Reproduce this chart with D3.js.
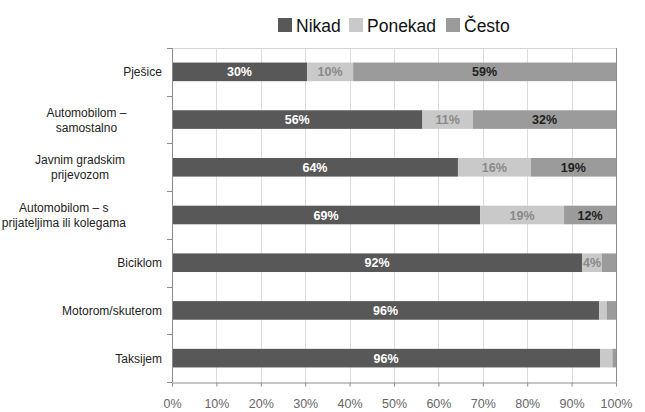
<!DOCTYPE html>
<html>
<head>
<meta charset="utf-8">
<script src="https://cdn.jsdelivr.net/npm/d3@7"></script>
<style>
  body { margin: 0; background: #fff; }
  svg { font-family: "Liberation Sans", Arial, sans-serif; }
</style>
</head>
<body>
<svg width="645" height="412"></svg>
<script>
// data
var categories = [
  ["Pješice"],
  ["Automobilom –", "samostalno"],
  ["Javnim gradskim", "prijevozom"],
  ["Automobilom – s", "prijateljima ili kolegama"],
  ["Biciklom"],
  ["Motorom/skuterom"],
  ["Taksijem"]
];
var seriesNames = ["Nikad", "Ponekad", "Često"];
var nikad   = [30.4, 56.4, 64.4, 69.4, 92.4, 96.2, 96.4];
var ponekad = [10.4, 11.4, 16.4, 18.9, 4.4, 1.7, 2.8];
var cesto   = [59.2, 32.2, 19.2, 11.7, 3.2, 2.1, 0.8];
var xTicks  = [0, 10, 20, 30, 40, 50, 60, 70, 80, 90, 100];

var colors = ["#585858", "#c9c9c9", "#9b9b9b"],
    labelColors = ["#ffffff", "#8a8a8a", "#222222"];

var svg = d3.select("svg"),
    plotLeft = 172, plotRight = 616, plotTop = 48, plotBottom = 382;

var rows = categories.map(function(c, i) {
  return { i: i, name: c, Nikad: nikad[i], Ponekad: ponekad[i], "Često": cesto[i] };
});

var x = d3.scaleLinear().domain([0, 100]).range([plotLeft, plotRight]);
var y = d3.scaleBand().domain(d3.range(categories.length)).range([plotTop, plotBottom])
  .paddingInner(0.61).paddingOuter(0.305);

var stack = d3.stack().keys(seriesNames)(rows);

// gridlines
svg.append("g")
  .selectAll("line")
  .data(xTicks.slice(1, -1))
  .enter().append("line")
  .attr("x1", d => Math.round(x(d)) + 0.5).attr("x2", d => Math.round(x(d)) + 0.5)
  .attr("y1", plotTop).attr("y2", plotBottom)
  .attr("stroke", "#dcdcdc").attr("stroke-width", 1);

// top border
svg.append("line")
  .attr("x1", plotLeft).attr("x2", plotRight).attr("y1", plotTop + 0.5).attr("y2", plotTop + 0.5)
  .attr("stroke", "#d4d4d4");
// right border
svg.append("line")
  .attr("x1", plotRight + 0.5).attr("x2", plotRight + 0.5).attr("y1", plotTop).attr("y2", plotBottom)
  .attr("stroke", "#8c8c8c");

// bars
var layer = svg.append("g")
  .selectAll("g")
  .data(stack)
  .enter().append("g")
  .attr("fill", (d, i) => colors[i]);

layer.selectAll("rect")
  .data(d => d)
  .enter().append("rect")
  .attr("x", d => x(d[0]))
  .attr("width", d => x(d[1]) - x(d[0]))
  .attr("y", d => y(d.data.i))
  .attr("height", y.bandwidth());

// bar labels
stack.forEach(function(s, si) {
  svg.append("g")
    .selectAll("text")
    .data(s.filter(d => d[1] - d[0] >= 4))
    .enter().append("text")
    .attr("x", d => (x(d[0]) + x(d[1])) / 2)
    .attr("y", d => y(d.data.i) + y.bandwidth() / 2 + 4.5)
    .attr("text-anchor", "middle")
    .attr("font-size", "12.5px")
    .attr("font-weight", "bold")
    .attr("fill", labelColors[si])
    .text(d => Math.round(d[1] - d[0]) + "%");
});

// y axis line + ticks
svg.append("line")
  .attr("x1", plotLeft + 0.5).attr("x2", plotLeft + 0.5).attr("y1", plotTop).attr("y2", plotBottom)
  .attr("stroke", "#8c8c8c");
svg.append("g")
  .selectAll("line")
  .data(d3.range(categories.length + 1))
  .enter().append("line")
  .attr("x1", plotLeft - 5).attr("x2", plotLeft)
  .attr("y1", d => Math.round(plotTop + d * y.step()) + 0.5)
  .attr("y2", d => Math.round(plotTop + d * y.step()) + 0.5)
  .attr("stroke", "#8c8c8c");

// x axis
var xAxis = svg.append("g")
  .attr("transform", "translate(0," + (plotBottom + 0.5) + ")")
  .call(d3.axisBottom(x).tickValues(xTicks).tickFormat(d => d + "%").tickSize(4).tickSizeOuter(0));
xAxis.select(".domain").attr("stroke", "#8c8c8c");
xAxis.selectAll(".tick line").attr("stroke", "#8c8c8c");
xAxis.selectAll(".tick text")
  .attr("y", 17)
  .attr("font-size", "12.5px")
  .attr("font-family", "Liberation Sans, Arial, sans-serif")
  .attr("fill", "#666");

// category labels
var catLabels = svg.append("g")
  .selectAll("text")
  .data(categories)
  .enter().append("text")
  .attr("font-size", "12px")
  .attr("fill", "#222")
  .attr("text-anchor", "middle");

catLabels.each(function(lines, i) {
  var t = d3.select(this),
      cy = y(i) + y.bandwidth() / 2,
      lh = 15,
      y0 = cy + 4.5 - (lines.length - 1) * lh / 2;
  lines.forEach(function(l, k) {
    t.append("tspan").attr("y", y0 + k * lh).text(l);
  });
  var w = this.getBBox().width;
  t.selectAll("tspan").attr("x", 162 - w / 2);
});

// legend
var legendX = [278, 349, 446];
var legend = svg.append("g")
  .selectAll("g")
  .data(seriesNames)
  .enter().append("g")
  .attr("transform", (d, i) => "translate(" + legendX[i] + ",18)");
legend.append("rect")
  .attr("width", 14).attr("height", 14)
  .attr("fill", (d, i) => colors[i]);
legend.append("text")
  .attr("x", 18).attr("y", 13.5)
  .attr("font-size", "17.5px")
  .attr("fill", "#111")
  .text(d => d);
</script>
</body>
</html>
